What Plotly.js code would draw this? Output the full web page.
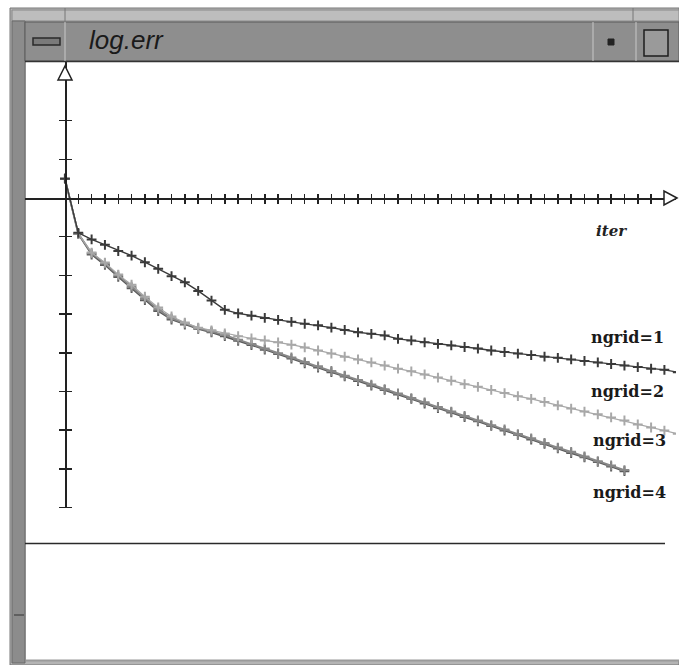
<!DOCTYPE html>
<html>
<head>
<meta charset="utf-8">
<script src="https://cdn.plot.ly/plotly-3.0.1.min.js"></script>
<style>html,body{margin:0;padding:0;background:#fff;}#chart{width:679px;height:665px;}</style>
</head>
<body>
<div id="chart"></div>
<script>
// ---- data ----
const iterNgrid1 = [0,1,2,3,4,5,6,7,8,9,10,11,12,13,14,15,16,17,18,19,20,21,22,23,24,25,26,27,28,29,30,31,32,33,34,35,36,37,38,39,40,41,42,43,44,45,46];
const errNgrid1 = [0.50,-0.90,-1.07,-1.21,-1.37,-1.49,-1.66,-1.83,-2.02,-2.18,-2.40,-2.65,-2.89,-2.98,-3.04,-3.10,-3.15,-3.20,-3.25,-3.29,-3.35,-3.41,-3.47,-3.51,-3.55,-3.64,-3.68,-3.73,-3.77,-3.81,-3.85,-3.89,-3.94,-3.98,-4.02,-4.06,-4.10,-4.13,-4.17,-4.21,-4.25,-4.29,-4.33,-4.37,-4.41,-4.44,-4.50];
const iterNgrid2 = iterNgrid1;
const errNgrid2 = [0.50,-0.92,-1.41,-1.67,-1.98,-2.24,-2.55,-2.83,-3.06,-3.22,-3.35,-3.42,-3.50,-3.57,-3.63,-3.68,-3.73,-3.79,-3.86,-3.94,-4.02,-4.10,-4.17,-4.25,-4.33,-4.41,-4.48,-4.56,-4.64,-4.72,-4.81,-4.88,-4.96,-5.04,-5.12,-5.19,-5.27,-5.36,-5.44,-5.52,-5.59,-5.67,-5.75,-5.85,-5.93,-6.01,-6.09];
const iterNgrid3 = [0,1,2,3,4,5,6,7,8,9,10,11,12,13,14,15,16,17,18,19,20,21,22,23,24,25,26,27,28,29,30,31,32,33,34,35,36,37,38,39,40,41,42];
const errNgrid3 = [0.50,-0.92,-1.43,-1.69,-2.00,-2.29,-2.60,-2.88,-3.11,-3.24,-3.36,-3.45,-3.54,-3.66,-3.77,-3.89,-4.01,-4.12,-4.24,-4.35,-4.47,-4.59,-4.70,-4.82,-4.94,-5.05,-5.17,-5.28,-5.40,-5.52,-5.63,-5.75,-5.87,-5.98,-6.10,-6.21,-6.33,-6.45,-6.56,-6.68,-6.80,-6.91,-7.03];
const iterNgrid4 = iterNgrid3;
const errNgrid4 = [0.50,-0.93,-1.46,-1.73,-2.04,-2.33,-2.64,-2.92,-3.14,-3.27,-3.38,-3.47,-3.57,-3.69,-3.80,-3.92,-4.03,-4.15,-4.27,-4.38,-4.50,-4.61,-4.73,-4.85,-4.96,-5.08,-5.19,-5.31,-5.43,-5.54,-5.66,-5.77,-5.89,-6.01,-6.12,-6.24,-6.35,-6.47,-6.59,-6.70,-6.82,-6.94,-7.06];
const seriesNames = ["ngrid=1","ngrid=2","ngrid=3","ngrid=4"];
const xTicks = [1,2,3,4,5,6,7,8,9,10,11,12,13,14,15,16,17,18,19,20,21,22,23,24,25,26,27,28,29,30,31,32,33,34,35,36,37,38,39,40,41,42,43,44];
const yTicks = [-8,-7,-6,-5,-4,-3,-2,-1,1,2];
const windowTitle = "log.err";
const xLabel = "iter";

// ---- layout helpers (pixel -> paper) ----
const W = 679, H = 665;
const fx = p => p / W;
const fy = p => 1 - p / H;
const xRange = [-3, 45.87];
const yRange = [-8, 3.514];
const xDomain = [fx(25), fx(676)];
const yDomain = [fy(507.6), fy(62)];
const xAxisPos = fy(198);
const yAxisPos = fx(65);

function mk(x, y, name, lineColor, lw, mColor) {
  return {x: x, y: y, name: name, type: 'scatter', mode: 'lines+markers',
    line: {color: lineColor, width: lw},
    marker: {symbol: 'cross-thin-open', size: 7, line: {color: mColor, width: 2}},
    hoverinfo: 'skip', showlegend: false};
}
const traces = [
  mk(iterNgrid4, errNgrid4, seriesNames[3], '#5a5a5a', 1.8, '#666666'),
  mk(iterNgrid3, errNgrid3, seriesNames[2], '#888888', 1.8, '#858585'),
  mk(iterNgrid2, errNgrid2, seriesNames[1], '#a8a8a8', 1.2, '#9a9a9a'),
  mk(iterNgrid1, errNgrid1, seriesNames[0], '#3a3a3a', 1.4, '#222222'),
  {x: [], y: [], xaxis: 'x2', yaxis: 'y2', type: 'scatter', showlegend: false, hoverinfo: 'skip'}
];

function rect(x0, y0, x1, y1, fill, line, lw) {
  return {type: 'rect', xref: 'paper', yref: 'paper', x0: fx(x0), x1: fx(x1), y0: fy(y0), y1: fy(y1),
    fillcolor: fill, line: {color: line || fill, width: lw === undefined ? 0 : lw}, layer: 'below'};
}
function seg(x0, y0, x1, y1, color, lw) {
  return {type: 'line', xref: 'paper', yref: 'paper', x0: fx(x0), x1: fx(x1), y0: fy(y0), y1: fy(y1),
    line: {color: color, width: lw}, layer: 'above'};
}
function tri(pts) {
  let d = 'M' + pts.map(p => fx(p[0]) + ',' + fy(p[1])).join(' L') + ' Z';
  return {type: 'path', xref: 'paper', yref: 'paper', path: d, fillcolor: '#ffffff', line: {color: '#222', width: 1.5}, layer: 'above'};
}

const shapes = [
  rect(10, 8, 679, 665, '#b4b4b4', '#777', 1),
  rect(12, 10, 679, 21, '#bdbdbd', '#8a8a8a', 1),
  rect(12, 21, 25, 663, '#8c8c8c', '#6a6a6a', 1),
  rect(25, 22, 679, 61, '#8e8e8e', '#5a5a5a', 1),
  rect(26, 62, 679, 660, '#ffffff', '#ffffff', 0),
  seg(25, 61.5, 679, 61.5, '#333', 1.5),
  seg(65, 22, 65, 61, '#c8c8c8', 1),
  seg(65, 8, 65, 21, '#777', 1),
  seg(633, 8, 633, 21, '#777', 1),
  seg(593, 22, 593, 61, '#c8c8c8', 1),
  seg(636, 22, 636, 61, '#c8c8c8', 1),
  seg(14, 615, 24, 615, '#333', 1),
  {type: 'rect', xref: 'paper', yref: 'paper', x0: fx(33), x1: fx(60), y0: fy(38), y1: fy(45), fillcolor: '#7a7a7a', line: {color: '#2a2a2a', width: 1.5}, layer: 'above'},
  {type: 'rect', xref: 'paper', yref: 'paper', x0: fx(608), x1: fx(614), y0: fy(39), y1: fy(45), fillcolor: '#222', line: {color: '#222', width: 1}, layer: 'above'},
  {type: 'rect', xref: 'paper', yref: 'paper', x0: fx(644), x1: fx(668), y0: fy(30), y1: fy(56), fillcolor: '#9a9a9a', line: {color: '#1e1e1e', width: 1.5}, layer: 'above'},
  seg(25, 543.5, 665, 543.5, '#2a2a2a', 1.5),
  seg(26, 660.5, 679, 660.5, '#9a9a9a', 2),
  tri([[677, 198], [664, 191], [664, 205]]),
  tri([[65, 66], [58, 80], [72, 80]])
];

const axisBase = {showgrid: false, zeroline: false, showticklabels: false, fixedrange: true};
const layout = {
  width: W, height: H,
  margin: {l: 0, r: 0, t: 0, b: 0},
  paper_bgcolor: '#ffffff', plot_bgcolor: 'rgba(0,0,0,0)',
  showlegend: false,
  xaxis: Object.assign({}, axisBase, {domain: xDomain, range: xRange, anchor: 'free', position: xAxisPos, side: 'bottom',
    showline: true, linecolor: '#222', linewidth: 1.5, ticks: 'outside', ticklen: 4, tickwidth: 1.5, tickcolor: '#222',
    tickmode: 'array', tickvals: xTicks}),
  xaxis2: Object.assign({}, axisBase, {domain: xDomain, range: xRange, anchor: 'free', position: xAxisPos, overlaying: 'x', side: 'top',
    showline: false, ticks: 'outside', ticklen: 4, tickwidth: 1.5, tickcolor: '#222', tickmode: 'array', tickvals: xTicks}),
  yaxis: Object.assign({}, axisBase, {domain: yDomain, range: yRange, anchor: 'free', position: yAxisPos, side: 'left',
    showline: true, linecolor: '#222', linewidth: 1.5, ticks: 'outside', ticklen: 6, tickwidth: 1.5, tickcolor: '#222',
    tickmode: 'array', tickvals: yTicks}),
  yaxis2: Object.assign({}, axisBase, {domain: yDomain, range: yRange, anchor: 'free', position: yAxisPos, overlaying: 'y', side: 'right',
    showline: false, ticks: 'outside', ticklen: 6, tickwidth: 1.5, tickcolor: '#222', tickmode: 'array', tickvals: yTicks}),
  shapes: shapes,
  annotations: [
    {text: windowTitle, xref: 'paper', yref: 'paper', x: fx(87), y: fy(40), xanchor: 'left', yanchor: 'middle', showarrow: false,
      font: {family: 'Liberation Sans, Arial, sans-serif', size: 26, color: '#1a1a1a', style: 'italic'}},
    {text: '<b><i>' + xLabel + '</i></b>', xref: 'paper', yref: 'paper', x: fx(594), y: fy(231), xanchor: 'left', yanchor: 'middle', showarrow: false,
      font: {family: 'DejaVu Serif, serif', size: 15, color: '#222'}},
    {text: '<b>' + seriesNames[0] + '</b>', xref: 'paper', yref: 'paper', x: fx(589), y: fy(337), xanchor: 'left', yanchor: 'middle', showarrow: false,
      font: {family: 'DejaVu Serif, serif', size: 16, color: '#1a1a1a'}},
    {text: '<b>' + seriesNames[1] + '</b>', xref: 'paper', yref: 'paper', x: fx(589), y: fy(392), xanchor: 'left', yanchor: 'middle', showarrow: false,
      font: {family: 'DejaVu Serif, serif', size: 16, color: '#1a1a1a'}},
    {text: '<b>' + seriesNames[2] + '</b>', xref: 'paper', yref: 'paper', x: fx(591), y: fy(441), xanchor: 'left', yanchor: 'middle', showarrow: false,
      font: {family: 'DejaVu Serif, serif', size: 16, color: '#1a1a1a'}},
    {text: '<b>' + seriesNames[3] + '</b>', xref: 'paper', yref: 'paper', x: fx(591), y: fy(492), xanchor: 'left', yanchor: 'middle', showarrow: false,
      font: {family: 'DejaVu Serif, serif', size: 16, color: '#1a1a1a'}}
  ]
};

Plotly.newPlot('chart', traces, layout, {displayModeBar: false, staticPlot: true});
</script>
</body>
</html>
